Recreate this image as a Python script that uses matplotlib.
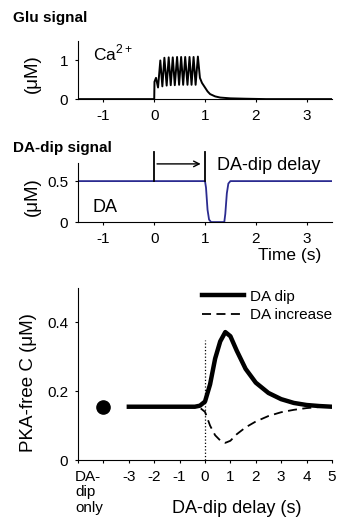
import matplotlib
matplotlib.use('Agg')
from matplotlib import pyplot as plt
from matplotlib import transforms

plt.rcParams['font.family'] = ['Liberation Sans', 'DejaVu Sans']
plt.rcParams['mathtext.fontset'] = 'custom'
plt.rcParams['mathtext.rm'] = 'Liberation Sans'
plt.rcParams['axes.unicode_minus'] = False

# Glu signal: Ca2+ trace (s, uM)
ca_t = [-1.5, 0.0, 0.005, 0.035, 0.075, 0.12, 0.16, 0.20, 0.245, 0.285, 0.325,
        0.365, 0.405, 0.45, 0.49, 0.53, 0.57, 0.61, 0.655, 0.695, 0.735,
        0.775, 0.815, 0.86, 0.90, 0.94, 0.97, 1.0, 1.05, 1.1, 1.2, 1.3,
        1.5, 1.8, 2.2, 3.5]
ca_v = [0.0, 0.0, 0.45, 0.55, 0.30, 1.00, 0.33, 1.07, 0.35, 1.08, 0.36,
        1.08, 0.36, 1.09, 0.37, 1.09, 0.37, 1.09, 0.37, 1.09, 0.37,
        1.09, 0.37, 1.10, 0.55, 0.42, 0.36, 0.30, 0.20, 0.13, 0.07, 0.04,
        0.02, 0.01, 0.0, 0.0]

# DA-dip signal (s, uM)
da_t = [-1.5, 1.0, 1.02, 1.05, 1.08, 1.12, 1.38, 1.40, 1.43, 1.46, 1.50, 3.5]
da_v = [0.5, 0.5, 0.42, 0.15, 0.03, 0.0, 0.0, 0.10, 0.35, 0.47, 0.5, 0.5]

# PKA-free C vs DA-dip delay (s, uM)
delay = [-3, -2, -1, -0.4, -0.2, 0, 0.2, 0.4, 0.6, 0.8, 1.0, 1.25, 1.6,
         2.0, 2.5, 3.0, 3.5, 4.0, 4.5, 5.0]
pka_dip = [0.155, 0.155, 0.155, 0.155, 0.158, 0.17, 0.22, 0.295, 0.345,
           0.372, 0.36, 0.318, 0.265, 0.225, 0.195, 0.177, 0.166, 0.16,
           0.157, 0.155]
pka_inc = [0.155, 0.155, 0.155, 0.155, 0.152, 0.14, 0.10, 0.072, 0.057,
           0.05, 0.056, 0.075, 0.095, 0.112, 0.128, 0.139, 0.146, 0.151,
           0.154, 0.155]
dip_only = 0.155

fig = plt.figure(figsize=(3.38, 5.30), dpi=100)
ax1 = fig.add_axes([0.231, 0.813, 0.751, 0.1094])
ax2 = fig.add_axes([0.231, 0.581, 0.751, 0.1113])
ax3 = fig.add_axes([0.231, 0.132, 0.751, 0.3245])

for ax in (ax1, ax2, ax3):
    for s in ('top', 'right'):
        ax.spines[s].set_visible(False)
    ax.tick_params(direction='out', labelsize=11, length=2.5, pad=4.5)


def ylab(text, x, y):
    fig.text(x / 338, 1 - y / 530, text, fontsize=13.5, rotation=90,
             ha='center', va='center')


# top panel
ax1.plot(ca_t, ca_v, color='black', lw=1.4)
ax1.set_xlim(-1.5, 3.5)
ax1.set_ylim(0, 1.5)
ax1.set_xticks([-1, 0, 1, 2, 3])
ax1.set_yticks([0, 1])
ylab('(μM)', 32.5, 74)
ax1.text(-1.21, 1.2, 'Ca$^{2+}$', fontsize=12.5, ha='left', va='center')
fig.text(13 / 338, 1 - 18 / 530, 'Glu signal', fontsize=11, fontweight='bold',
         ha='left', va='center')

# middle panel
ax2.plot(da_t, da_v, color='#2b2b90', lw=1.3)
ax2.set_xlim(-1.5, 3.5)
ax2.set_ylim(0, 0.72)
ax2.set_xticks([-1, 0, 1, 2, 3])
ax2.set_yticks([0, 0.5])
ax2.set_yticklabels(['0', '0.5'])
ylab('(μM)', 32.5, 197)
ax2.plot([0, 0], [0.5, 0.855], color='black', lw=1.3, clip_on=False)
ax2.plot([1, 1], [0.5, 0.855], color='black', lw=1.3, clip_on=False)
ax2.annotate('', xy=(0.97, 0.71), xytext=(0, 0.71), annotation_clip=False,
             arrowprops=dict(arrowstyle='->', color='black', lw=1.0))
ax2.text(1.245, 0.695, 'DA-dip delay', fontsize=13, ha='left', va='center')
ax2.text(-1.21, 0.18, 'DA', fontsize=13, ha='left', va='center')
ax2.text((289.5 - 78) / 254, -0.56, 'Time (s)', fontsize=12.5, ha='center',
         va='center', transform=ax2.transAxes)
fig.text(13 / 338, 1 - 148 / 530, 'DA-dip signal', fontsize=11,
         fontweight='bold', ha='left', va='center')

# bottom panel
ax3.plot(delay, pka_dip, color='black', lw=3.2, label='DA dip')
ax3.plot(delay, pka_inc, color='black', lw=1.3, ls=(0, (5, 3)),
         label='DA increase')
ax3.plot([-4], [dip_only], 'o', color='black', ms=9.5)
ax3.plot([0, 0], [0, 0.35], color='black', lw=0.9, ls=':')
ax3.set_xlim(-5, 5)
ax3.set_ylim(0, 0.5)
ax3.set_xticks(range(-5, 6))
ax3.set_xticklabels(['', ''] + [str(v) for v in range(-3, 6)])
ax3.set_yticks([0, 0.2, 0.4])
ax3.set_yticklabels(['0', '0.2', '0.4'])
ylab('PKA-free C (μM)', 29, 383)
trans = transforms.blended_transform_factory(ax3.transData, ax3.transAxes)
ax3.text(-5.12, -0.06, 'DA-\ndip\nonly', fontsize=11, ha='left', va='top',
         linespacing=1.1, transform=trans)
ax3.text(0.626, -0.279, 'DA-dip delay (s)', fontsize=13, ha='center',
         va='center', transform=ax3.transAxes)
ax3.legend(loc='upper right', bbox_to_anchor=(1.0, 0.99), frameon=False,
           fontsize=11, borderpad=0, handlelength=2.75, handletextpad=0.35,
           labelspacing=0.3, borderaxespad=0)

fig.savefig('out.png', dpi=100)
